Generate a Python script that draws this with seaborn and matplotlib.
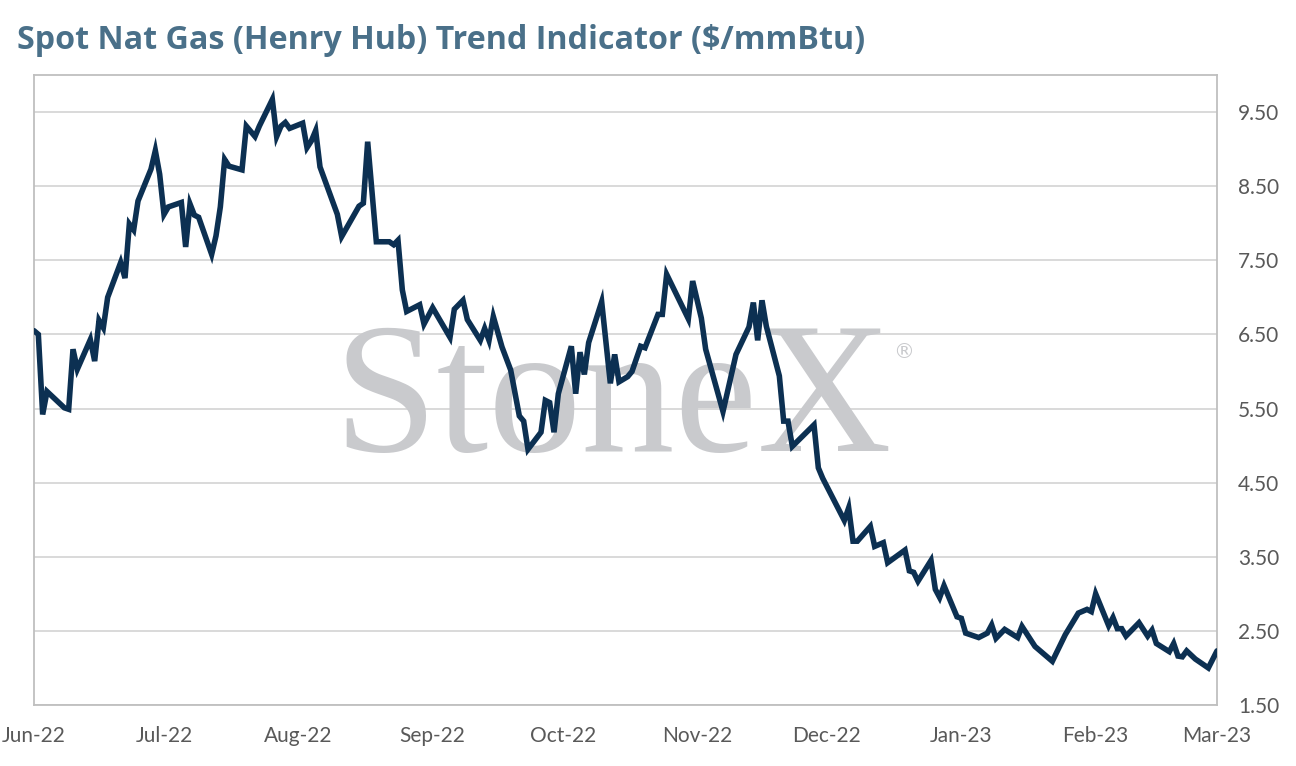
import pandas as pd
import numpy as np
import matplotlib.pyplot as plt
import matplotlib.dates as mdates
from matplotlib.ticker import FormatStrFormatter
import seaborn as sns

# dias desde 1-jun-2022 e preco spot
start_date = '2022-06-01'
days = [0, 1, 2, 3, 7, 8, 9, 10, 13, 14, 15, 16, 17, 20, 21, 22, 23, 24, 27, 28,
        29, 30, 31, 34, 35, 36, 37, 38, 41, 42, 43, 44, 45, 48, 49, 51, 52, 55, 56, 57,
        58, 59, 62, 63, 64, 65, 66, 70, 71, 75, 76, 77, 79, 82, 83, 84, 85, 86, 89, 90,
        92, 96, 97, 99, 100, 103, 104, 105, 106, 108, 110, 112, 113, 114, 117, 118, 119, 120, 121, 124,
        125, 126, 127, 128, 131, 133, 134, 135, 137, 138, 140, 141, 144, 145, 146, 151, 152, 154, 155, 159,
        162, 165, 166, 167, 168, 169, 172, 173, 174, 175, 180, 181, 182, 187, 188, 189, 190, 193, 194, 196,
        197, 201, 202, 203, 204, 207, 208, 209, 210, 213, 214, 215, 218, 220, 221, 222, 224, 227, 228, 231,
        235, 238, 241, 243, 244, 245, 248, 249, 250, 251, 252, 255, 257, 258, 259, 262, 263, 264, 265, 266,
        268, 271, 273]
price = [6.55, 6.50, 5.42, 5.73, 5.51, 5.49, 6.30, 6.03, 6.43, 6.14, 6.69, 6.59, 7.00, 7.47, 7.26, 7.99, 7.91, 8.30, 8.73, 8.98,
         8.66, 8.12, 8.22, 8.28, 7.68, 8.26, 8.11, 8.08, 7.58, 7.83, 8.22, 8.86, 8.77, 8.72, 9.31, 9.17, 9.31, 9.67, 9.17, 9.31,
         9.36, 9.28, 9.35, 9.02, 9.11, 9.25, 8.76, 8.12, 7.82, 8.23, 8.27, 9.10, 7.75, 7.75, 7.71, 7.77, 7.10, 6.81, 6.90, 6.64,
         6.86, 6.46, 6.84, 6.96, 6.70, 6.42, 6.58, 6.42, 6.74, 6.33, 6.02, 5.40, 5.33, 4.95, 5.18, 5.61, 5.58, 5.18, 5.70, 6.34,
         5.70, 6.26, 5.96, 6.39, 6.94, 5.84, 6.23, 5.86, 5.93, 6.00, 6.34, 6.32, 6.77, 6.77, 7.31, 6.71, 7.22, 6.72, 6.30, 5.46,
         6.23, 6.60, 6.93, 6.42, 6.96, 6.61, 5.94, 5.33, 5.33, 4.99, 5.28, 4.70, 4.56, 3.99, 4.16, 3.71, 3.71, 3.91, 3.64, 3.69,
         3.42, 3.59, 3.31, 3.29, 3.17, 3.45, 3.06, 2.95, 3.11, 2.69, 2.67, 2.47, 2.41, 2.47, 2.58, 2.40, 2.52, 2.41, 2.56, 2.29,
         2.09, 2.45, 2.74, 2.79, 2.76, 3.00, 2.57, 2.68, 2.53, 2.53, 2.43, 2.61, 2.43, 2.51, 2.33, 2.22, 2.33, 2.16, 2.15, 2.23,
         2.12, 2.00, 2.23]
y_ticks = [1.5, 2.5, 3.5, 4.5, 5.5, 6.5, 7.5, 8.5, 9.5]

titulo = 'Spot Nat Gas (Henry Hub) Trend Indicator ($/mmBtu)'
cor_linha = '#0c3052'
cor_titulo = '#4a7089'
cor_texto = '#595959'

df = pd.DataFrame({
    'data': pd.Timestamp(start_date) + pd.to_timedelta(days, unit='D'),
    'preco': price,
})

sns.set_style('white')
plt.rcParams['font.family'] = ['Lato', 'DejaVu Sans']

fig = plt.figure(figsize=(12.96, 7.66), dpi=100)
ax = fig.add_axes([34 / 1296, 61 / 766, 1183 / 1296, 630 / 766])

sns.lineplot(data=df, x='data', y='preco', ax=ax, color=cor_linha, linewidth=4,
             zorder=3, solid_joinstyle='miter')

# marca d'agua
ax.text(0.489, 0.474, 'StoneX', transform=ax.transAxes, ha='center', va='center',
        fontsize=134, family='Liberation Serif', color='#c9cacd', zorder=1.5)
ax.text(0.735, 0.56, '®', transform=ax.transAxes, ha='center', va='center',
        fontsize=15, family='DejaVu Sans', color='#c9cacd', zorder=1.5)

ax.set_xlim(pd.Timestamp('2022-06-01'), pd.Timestamp('2023-03-01'))
ax.set_ylim(1.5, 10.0)
ax.set_yticks(y_ticks)
ax.yaxis.set_major_formatter(FormatStrFormatter('%.2f'))
ax.yaxis.tick_right()
ax.xaxis.set_major_locator(mdates.MonthLocator())
ax.xaxis.set_major_formatter(mdates.DateFormatter('%b-%y'))
ax.tick_params(axis='both', length=0, labelsize=15, labelcolor=cor_texto)
ax.tick_params(axis='y', pad=15)
ax.tick_params(axis='x', pad=15)

ax.set_axisbelow(True)
ax.grid(axis='y', color='#d9d9d9', linewidth=1.4)
ax.grid(axis='x', visible=False)
for sp in ax.spines.values():
    sp.set_visible(True)
    sp.set_color('#bfbfbf')
    sp.set_linewidth(1.3)

ax.set_xlabel('')
ax.set_ylabel('')

fig.text(17 / 1296, 1 - 49 / 766, titulo, ha='left', va='baseline', fontsize=23.2,
         fontweight='bold', family=['Open Sans', 'DejaVu Sans'], color=cor_titulo)

plt.savefig('out.png', dpi=100)
